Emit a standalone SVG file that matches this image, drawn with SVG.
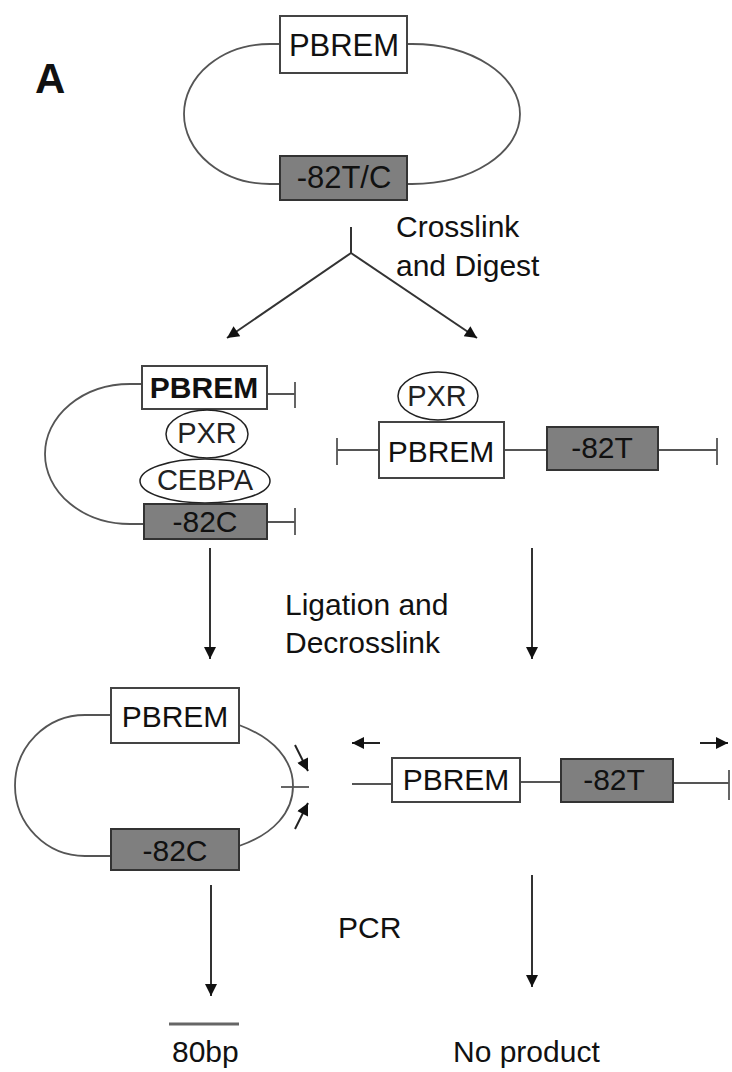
<svg xmlns="http://www.w3.org/2000/svg" width="732" height="1072" viewBox="0 0 732 1072">
<style>
text{font-family:"Liberation Sans",Arial,sans-serif;font-size:30px;fill:#111}
.lbl{text-anchor:start}
.c{text-anchor:middle}
.b{font-weight:bold}
.wbox{fill:#fff;stroke:#444;stroke-width:2}
.gbox{fill:#7f7f7f;stroke:#333;stroke-width:2}
.dna{fill:none;stroke:#555;stroke-width:1.8}
.prot{fill:#fff;stroke:#222;stroke-width:1.5}
.ot{fill:#222;text-anchor:middle;font-size:29px}
.conn{fill:none;stroke:#333;stroke-width:2}
.pr{fill:none;stroke:#222;stroke-width:2}
</style>
<defs>
<marker id="ah" viewBox="0 0 10 10" refX="10" refY="5" markerWidth="15" markerHeight="12" markerUnits="userSpaceOnUse" orient="auto"><path d="M0,0 L10,5 L0,10 z" fill="#111"/></marker>
<marker id="sh" viewBox="0 0 10 10" refX="10" refY="5" markerWidth="14" markerHeight="12" markerUnits="userSpaceOnUse" orient="auto"><path d="M0,0 L10,5 L0,10 z" fill="#111"/></marker>
</defs>

<text x="35" y="93" style="font-size:42px;font-weight:bold">A</text>

<g id="top-loop">
<path class="dna" d="M280,44 H270 A86,70 0 0 0 270,184 H280"/>
<path class="dna" d="M407,44 H412 A108,70 0 0 1 412,184 H407"/>
<rect class="wbox" x="280" y="16" width="127" height="57"/>
<text class="c" x="344" y="56" style="font-size:31px">PBREM</text>
<rect class="gbox" x="280" y="156" width="127" height="44"/>
<text class="c" x="344" y="188" style="font-size:31px">-82T/C</text>
</g>

<g id="label-crosslink">
<text class="lbl" x="396" y="237">Crosslink</text>
<text class="lbl" x="396" y="276">and Digest</text>
</g>

<g id="mid-left">
<path class="dna" d="M142,384 H130 A85,70 0 0 0 130,524 H145"/>
<path class="dna" d="M267,394 H295 M295,382 V408"/>
<path class="dna" d="M267,522 H295 M295,508 V535"/>
<rect class="wbox" x="142" y="366" width="125" height="43"/>
<text class="c b" x="204" y="398">PBREM</text>
<ellipse class="prot" cx="207" cy="434" rx="41" ry="24"/>
<text class="ot" x="207" y="443">PXR</text>
<ellipse class="prot" cx="205" cy="481" rx="65" ry="22"/>
<text class="ot" x="205" y="490">CEBPA</text>
<rect class="gbox" x="144" y="504" width="123" height="35"/>
<text class="c" x="205" y="532">-82C</text>
</g>

<g id="mid-right">
<path class="dna" d="M337,450 H379 M337,438 V465"/>
<path class="dna" d="M504,450 H547"/>
<path class="dna" d="M658,450 H717 M717,438 V465"/>
<ellipse class="prot" cx="438" cy="396" rx="40" ry="24"/>
<text class="ot" x="437" y="406">PXR</text>
<rect class="wbox" x="379" y="422" width="125" height="56"/>
<text class="c" x="441" y="462">PBREM</text>
<rect class="gbox" x="547" y="427" width="111" height="43"/>
<text class="c" x="602" y="458">-82T</text>
</g>

<g id="label-ligation">
<text class="lbl" x="285" y="615">Ligation and</text>
<text class="lbl" x="285" y="653">Decrosslink</text>
</g>

<g id="bottom-left">
<path class="dna" d="M111,715 H85 A70,70.5 0 0 0 85,856 H111"/>
<path class="dna" d="M239,725 C274,738 293,760 293,786 C293,812 274,834 239,846"/>
<path class="dna" d="M281,787 H309"/>
<path class="pr" d="M295,745 L308,771" marker-end="url(#sh)"/>
<path class="pr" d="M295,829 L308,803" marker-end="url(#sh)"/>
<rect class="wbox" x="111" y="688" width="128" height="55"/>
<text class="c" x="175" y="727">PBREM</text>
<rect class="gbox" x="111" y="829" width="128" height="41"/>
<text class="c" x="175" y="861">-82C</text>
</g>

<g id="bottom-right">
<path class="pr" d="M380,743 H352" marker-end="url(#sh)"/>
<path class="pr" d="M700,743 H728" marker-end="url(#sh)"/>
<path class="dna" d="M352,784 H392"/>
<path class="dna" d="M520,782 H561"/>
<path class="dna" d="M673,783 H729 M729,770 V800"/>
<rect class="wbox" x="392" y="758" width="128" height="44"/>
<text class="c" x="456" y="790">PBREM</text>
<rect class="gbox" x="561" y="759" width="112" height="43"/>
<text class="c" x="614" y="790">-82T</text>
</g>

<g id="label-pcr"><text class="lbl" x="338" y="938">PCR</text></g>

<g id="product-80bp">
<path d="M169,1024 H239" stroke="#666" stroke-width="3"/>
<text class="lbl" x="172" y="1062">80bp</text>
</g>
<g id="no-product"><text class="lbl" x="453" y="1062">No product</text></g>

<g id="connectors">
<path class="conn" d="M351,227 V253"/>
<path class="conn" d="M351,253 L227,338" marker-end="url(#ah)"/>
<path class="conn" d="M351,253 L477,338" marker-end="url(#ah)"/>
<path class="conn" d="M210,548 V659" marker-end="url(#ah)"/>
<path class="conn" d="M532,548 V659" marker-end="url(#ah)"/>
<path class="conn" d="M211,885 V996" marker-end="url(#ah)"/>
<path class="conn" d="M532,875 V987" marker-end="url(#ah)"/>
</g>
</svg>
